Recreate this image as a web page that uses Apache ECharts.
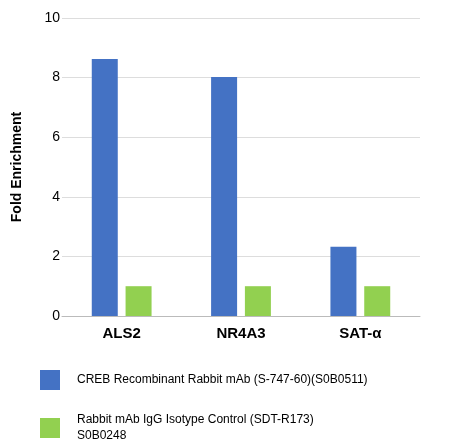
<!DOCTYPE html>
<html>
<head>
<meta charset="utf-8">
<script src="https://cdn.jsdelivr.net/npm/echarts@6/dist/echarts.min.js"></script>
<style>html,body{margin:0;padding:0;background:#fff}#chart{width:455px;height:446px}</style>
</head>
<body>
<div id="chart"></div>
<script>
// data
const categories = ['ALS2', 'NR4A3', 'SAT-α'];
const crebValues = [8.62, 8.02, 2.32];
const iggValues = [1.0, 1.0, 1.0];
const seriesNames = [
  'CREB Recombinant Rabbit mAb (S-747-60)(S0B0511)',
  'Rabbit mAb IgG Isotype Control (SDT-R173)\nS0B0248'
];

const legendBase = {
  left: 35,
  itemWidth: 20,
  itemHeight: 20,
  icon: 'rect',
  textStyle: { fontSize: 12, color: '#000', padding: [0, 0, 0, 12], lineHeight: 16 }
};

const chart = echarts.init(document.getElementById('chart'));
chart.setOption({
  animation: false,
  textStyle: { fontFamily: 'Arial, "Liberation Sans", sans-serif' },
  grid: { left: 62, right: 35, top: 18, bottom: 130 },
  legend: [
    Object.assign({ top: 365, data: [seriesNames[0]] }, legendBase),
    Object.assign({ top: 407, data: [seriesNames[1]] }, legendBase)
  ],
  xAxis: {
    type: 'category',
    data: categories,
    axisTick: { show: false },
    axisLine: { lineStyle: { color: '#bbb' } },
    axisLabel: { fontSize: 15, fontWeight: 'bold', color: '#000', margin: 10 }
  },
  yAxis: {
    type: 'value',
    min: 0, max: 10, interval: 2,
    name: 'Fold Enrichment',
    nameLocation: 'middle',
    nameGap: 38,
    nameTextStyle: { fontSize: 14, fontWeight: 'bold', color: '#000' },
    axisLabel: { fontSize: 14, color: '#000', margin: 2 },
    splitLine: { lineStyle: { color: '#ddd' } },
    axisLine: { show: false }
  },
  series: [
    { name: seriesNames[0], type: 'bar', data: crebValues, barWidth: 26, barGap: '30%', itemStyle: { color: '#4472C4' } },
    { name: seriesNames[1], type: 'bar', data: iggValues, barWidth: 26, itemStyle: { color: '#92D050' } }
  ]
});
</script>
</body>
</html>
